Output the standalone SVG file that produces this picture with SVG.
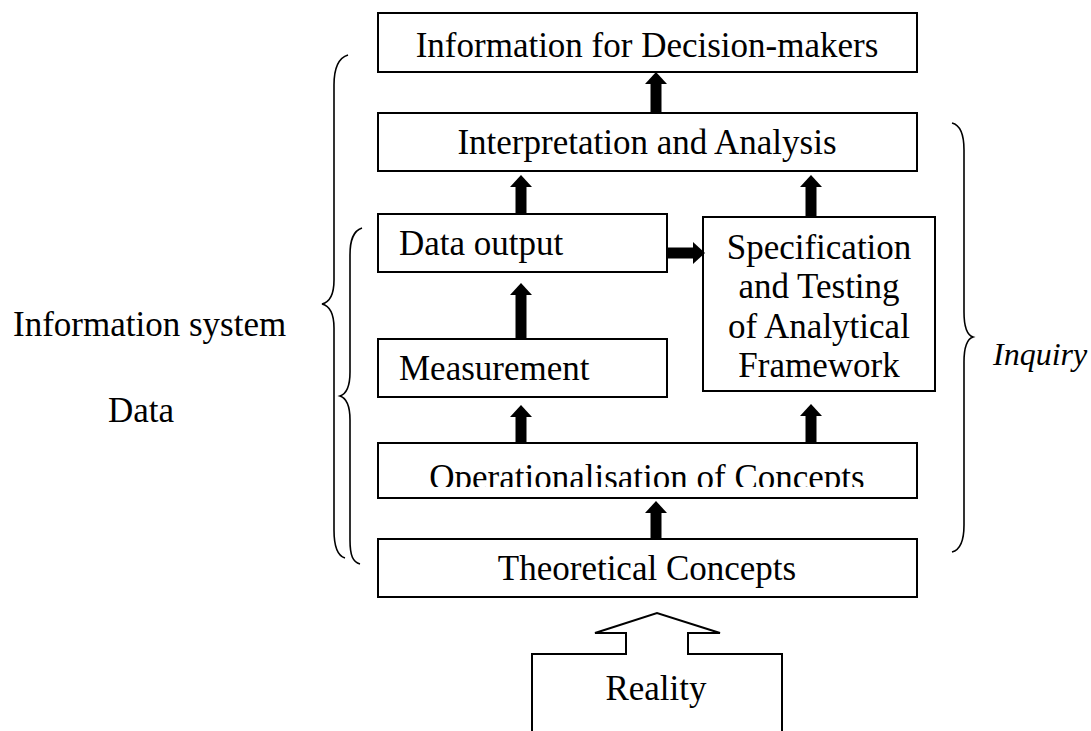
<svg xmlns="http://www.w3.org/2000/svg" width="1091" height="731" viewBox="0 0 1091 731">
<style>
.box{fill:#fff;stroke:#000;stroke-width:2}
.t{font-family:"Liberation Serif","Times New Roman",serif;font-size:35px;fill:#000}
.c{text-anchor:middle}
.brace{fill:none;stroke:#000;stroke-width:1.6}
.conn{stroke:#000;stroke-width:11;fill:none;marker-end:url(#ah)}
</style>
<defs>
<marker id="ah" markerUnits="userSpaceOnUse" markerWidth="12" markerHeight="22" refX="0" refY="11" orient="auto" viewBox="0 0 12 22">
<path d="M0,0 L12,11 L0,22 z" fill="#000"/>
</marker>
<clipPath id="opclip"><rect x="378" y="443" width="539" height="44"/></clipPath>
</defs>
<rect width="1091" height="731" fill="#fff"/>

<g id="info-decision"><rect class="box" x="378" y="13" width="539" height="59"/><text class="t c" x="647" y="57">Information for Decision-makers</text></g>
<g id="interpretation"><rect class="box" x="378" y="113" width="539" height="58"/><text class="t c" x="647" y="154">Interpretation and Analysis</text></g>
<g id="data-output"><rect class="box" x="378" y="214" width="289" height="58"/><text class="t" x="399" y="255">Data output</text></g>
<g id="specification"><rect class="box" x="703" y="217" width="232" height="174"/>
<text class="t c" x="819" y="259">Specification</text>
<text class="t c" x="819" y="298">and Testing</text>
<text class="t c" x="819" y="338">of Analytical</text>
<text class="t c" x="819" y="377">Framework</text></g>
<g id="measurement"><rect class="box" x="378" y="339" width="289" height="58"/><text class="t" x="399" y="380">Measurement</text></g>
<g id="operationalisation"><rect class="box" x="378" y="443" width="539" height="55"/><text class="t c" x="647" y="489" clip-path="url(#opclip)">Operationalisation of Concepts</text></g>
<g id="theoretical"><rect class="box" x="378" y="539" width="539" height="58"/><text class="t c" x="647" y="580">Theoretical Concepts</text></g>
<g id="reality"><path d="M532,731 L532,654 L626,654 L626,633 L595,633 L657,613 L720,633 L688,633 L688,654 L782,654 L782,731" fill="none" stroke="#000" stroke-width="2"/><text class="t c" x="656" y="700">Reality</text></g>

<g id="label-info-system"><text class="t" x="13" y="336">Information system</text><path class="brace" d="M348,55 C338,58 334,68 334,85 L334,280 C334,294 330,302 322,304 C330,306 334,314 334,328 L334,530 C334,548 338,556 345,558"/></g>
<g id="label-data"><text class="t c" x="141" y="422">Data</text><path class="brace" d="M362,228 C353,231 350,240 350,255 L350,372 C350,386 346,394 340,396 C346,398 350,406 350,420 L350,540 C350,556 353,562 360,564"/></g>
<g id="label-inquiry"><text class="t" x="993" y="365" font-style="italic" font-size="32" style="font-size:32px">Inquiry</text><path class="brace" d="M952,123 C960,125 964,133 964,150 L964,312 C964,328 967,335 973,337 C967,339 964,346 964,362 L964,525 C964,542 960,550 952,552"/></g>

<g id="connectors">
<line class="conn" x1="656" y1="113" x2="656" y2="84"/>
<line class="conn" x1="521" y1="214" x2="521" y2="187"/>
<line class="conn" x1="811" y1="217" x2="811" y2="187"/>
<line class="conn" x1="521" y1="339" x2="521" y2="295"/>
<line class="conn" x1="521" y1="443" x2="521" y2="417"/>
<line class="conn" x1="811" y1="443" x2="811" y2="416"/>
<line class="conn" x1="656" y1="539" x2="656" y2="513"/>
<line class="conn" x1="667" y1="253" x2="693" y2="253"/>
</g>
</svg>
